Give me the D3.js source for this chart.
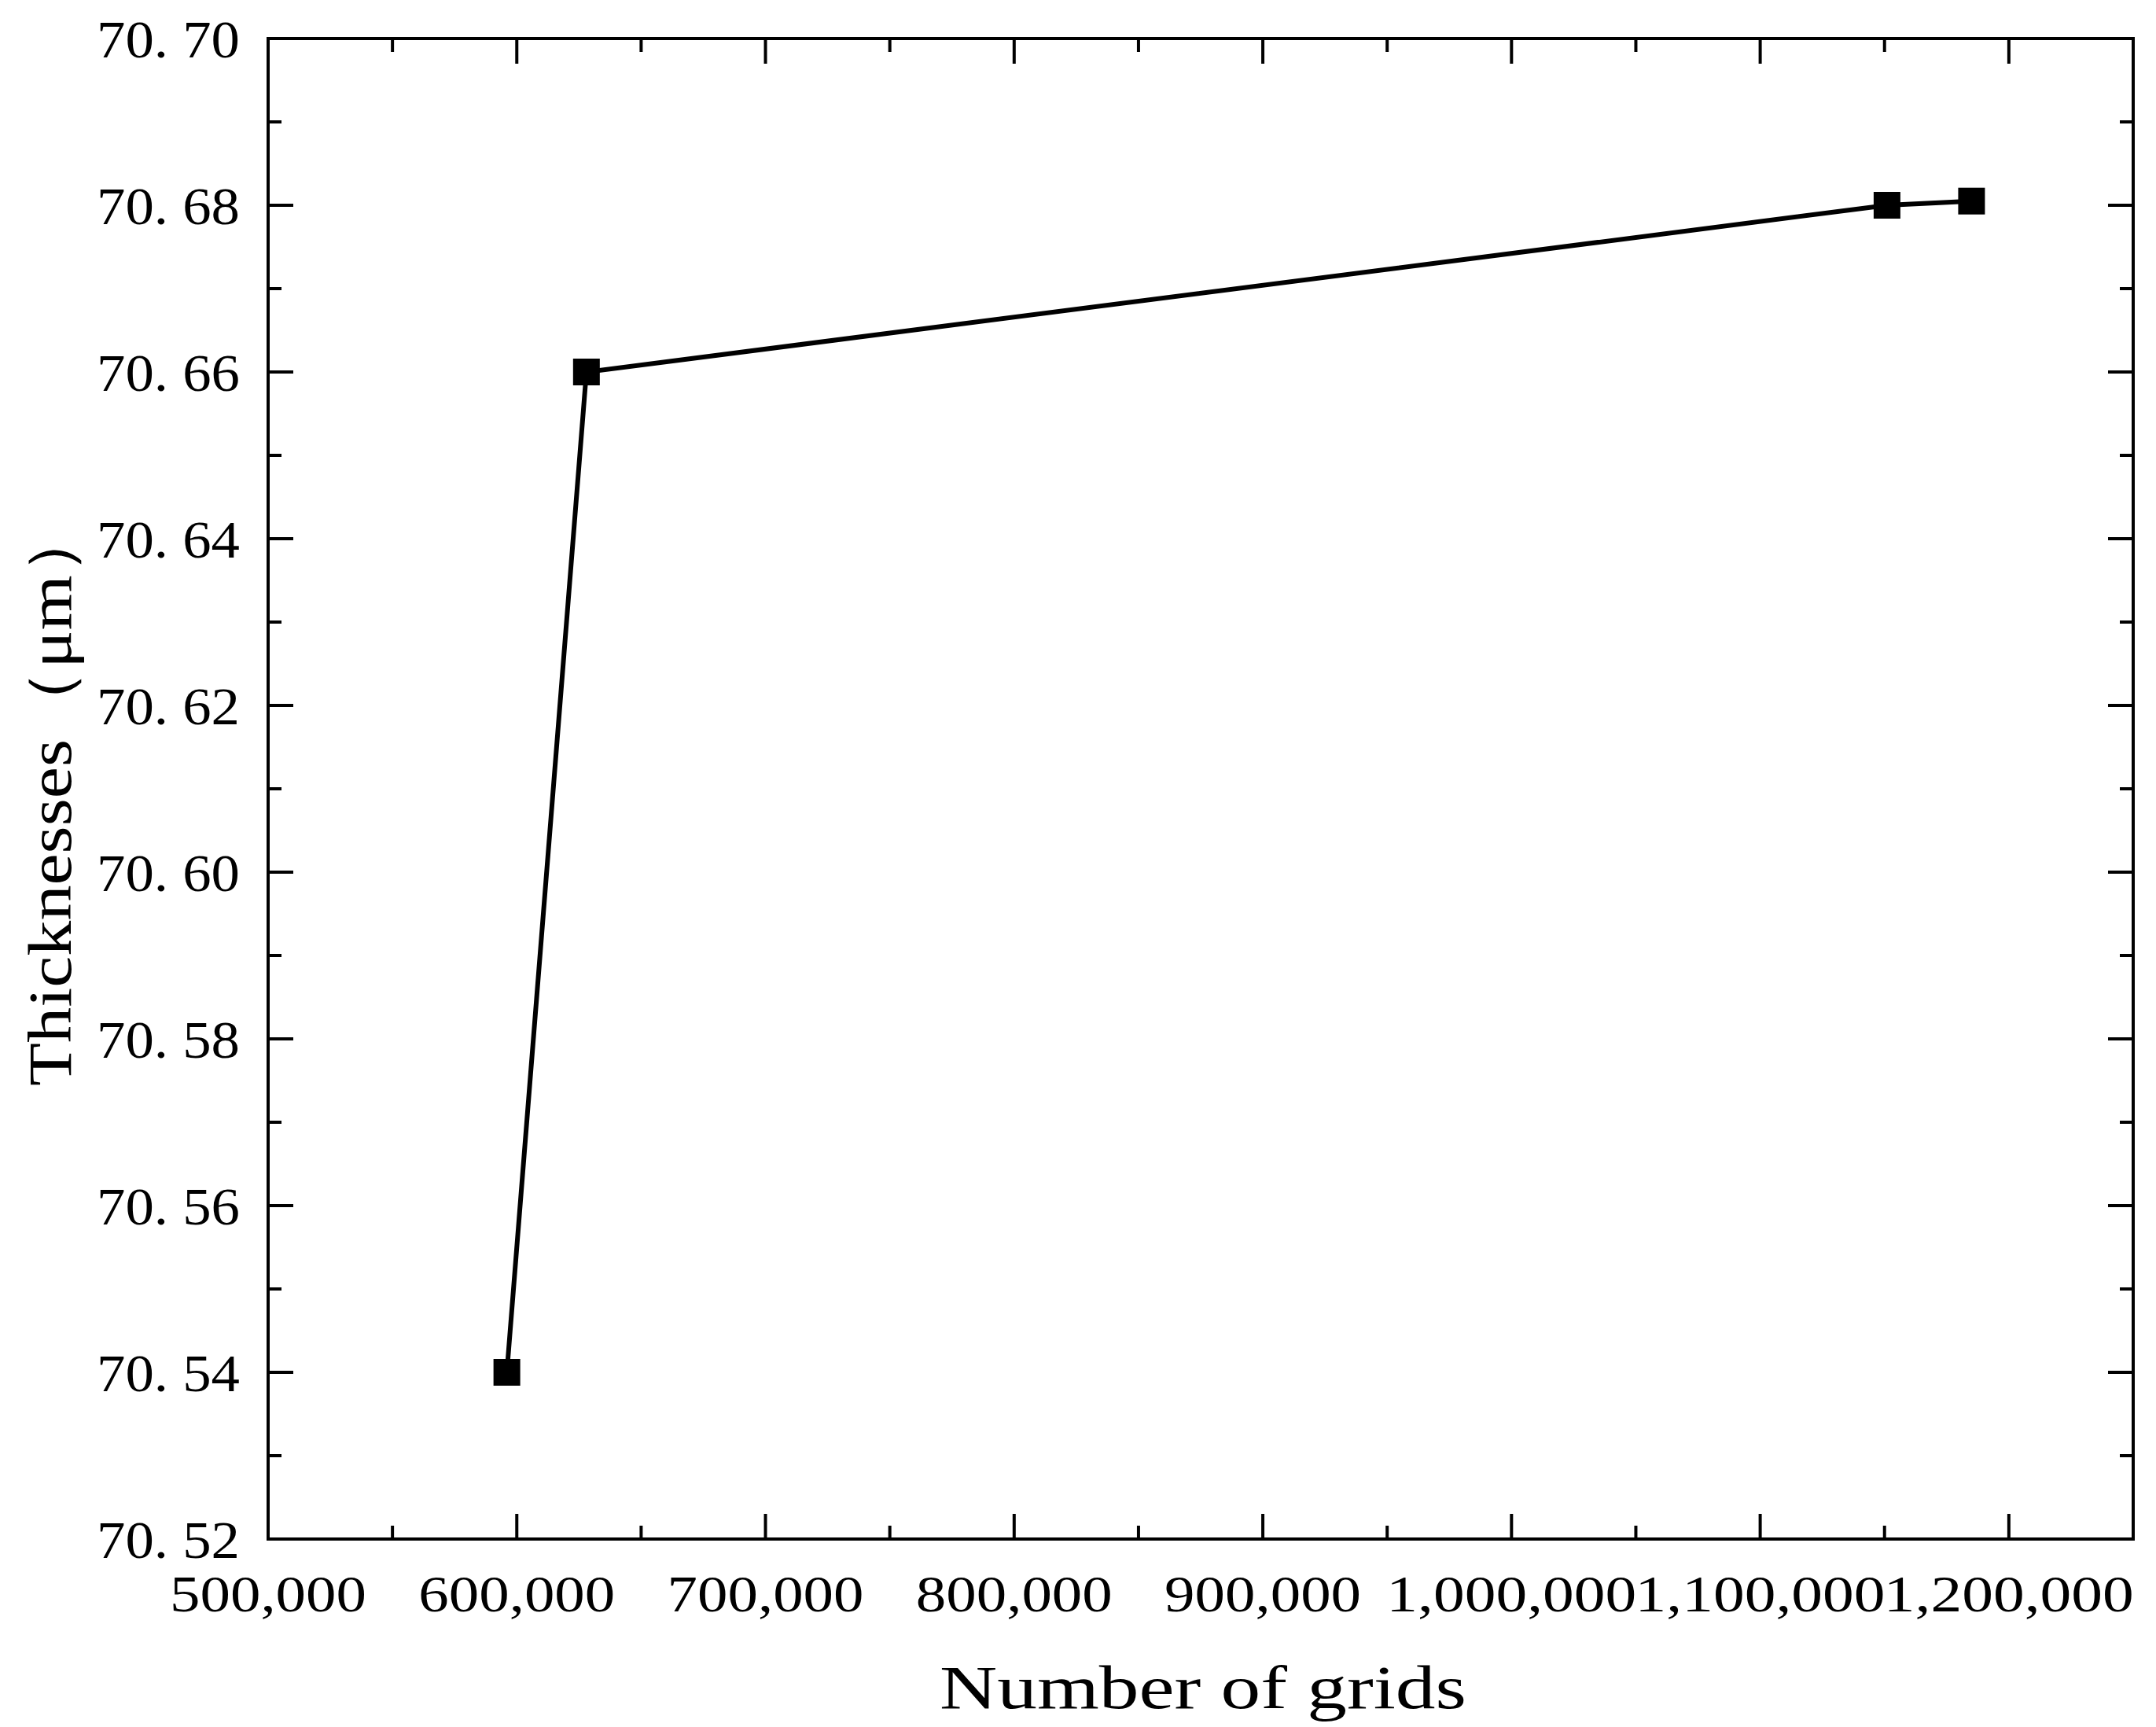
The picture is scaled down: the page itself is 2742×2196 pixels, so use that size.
<!DOCTYPE html><html><head><meta charset="utf-8"><script src="https://cdn.jsdelivr.net/npm/d3@7"></script>
<style>body{margin:0;background:#fff}</style></head><body><svg id="c" width="2742" height="2196"></svg><script>
const grids=[596000,628000,1151000,1185000];
const thick=[70.54,70.66,70.68,70.6805];
const xTicks=[500000,600000,700000,800000,900000,1000000,1100000,1200000];
const yTicks=[70.52,70.54,70.56,70.58,70.60,70.62,70.64,70.66,70.68,70.70];
const svg=d3.select("#c"),L=341,R=2713,T=49,B=1957,F="'Liberation Serif','Noto Serif',serif";
const x=d3.scaleLinear().domain([500000,1250000]).range([L,R]);
const y=d3.scaleLinear().domain([70.52,70.70]).range([B,T]);
const xm=d3.range(550000,1250001,100000), ym=d3.range(0,9).map(i=>70.53+i*0.02);
const g=svg.append("g");
function tk(x1,y1,x2,y2){g.append("line").attr("x1",x1).attr("y1",y1).attr("x2",x2).attr("y2",y2).attr("stroke","#000").attr("stroke-width",4);}
xTicks.forEach(v=>{tk(x(v),B,x(v),B-32);tk(x(v),T,x(v),T+32);});
xm.forEach(v=>{tk(x(v),B,x(v),B-17);tk(x(v),T,x(v),T+17);});
yTicks.forEach(v=>{tk(L,y(v),L+32,y(v));tk(R,y(v),R-32,y(v));});
ym.forEach(v=>{tk(L,y(v),L+17,y(v));tk(R,y(v),R-17,y(v));});
g.append("rect").attr("x",L).attr("y",T).attr("width",R-L).attr("height",B-T).attr("fill","none").attr("stroke","#000").attr("stroke-width",4);
const fx=d3.format(",");
xTicks.forEach(v=>svg.append("text").attr("x",x(v)).attr("y",B+92).attr("text-anchor","middle").attr("font-family",F).attr("font-size",66).attr("textLength",v>=1000000?318:250).attr("lengthAdjust","spacingAndGlyphs").text(fx(v)));
yTicks.forEach(v=>svg.append("text").attr("x",L-36).attr("y",y(v)+24).attr("text-anchor","end").attr("font-family",F).attr("font-size",68).attr("textLength",182).attr("lengthAdjust","spacingAndGlyphs").text(v.toFixed(2).replace(".",". ")));
svg.append("text").attr("x",1530).attr("y",2172).attr("text-anchor","middle").attr("font-family",F).attr("font-size",78).attr("textLength",670).attr("lengthAdjust","spacingAndGlyphs").text("Number of grids");
svg.append("text").attr("transform","translate(90,1011) rotate(-90)").attr("text-anchor","middle").attr("font-family",F).attr("font-size",78).attr("textLength",740).attr("lengthAdjust","spacingAndGlyphs").text("Thicknesses（μm）");
const pts=grids.map((d,i)=>[x(d),y(thick[i])]);
svg.append("path").attr("d",d3.line()(pts)).attr("fill","none").attr("stroke","#000").attr("stroke-width",6);
svg.selectAll(".m").data(pts).enter().append("rect").attr("x",d=>d[0]-17).attr("y",d=>d[1]-17).attr("width",34).attr("height",34).attr("fill","#000");
</script></body></html>
